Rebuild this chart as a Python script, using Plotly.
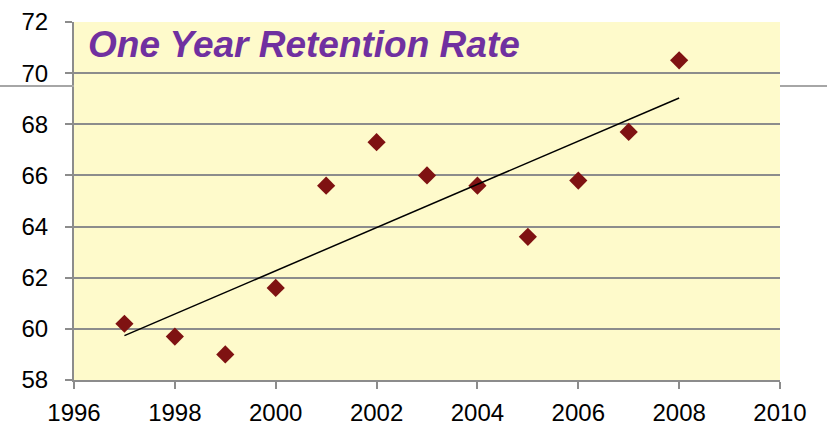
import numpy as np
import plotly.graph_objects as go

years = [1997, 1998, 1999, 2000, 2001, 2002, 2003, 2004, 2005, 2006, 2007, 2008]
retention = [60.2, 59.7, 59.0, 61.6, 65.6, 67.3, 66.0, 65.6, 63.6, 65.8, 67.7, 70.5]
title_text = "One Year Retention Rate"
x_ticks = [1996, 1998, 2000, 2002, 2004, 2006, 2008, 2010]
y_ticks = [58, 60, 62, 64, 66, 68, 70, 72]

slope, intercept = np.polyfit(years, retention, 1)
trend_x = [years[0], years[-1]]
trend_y = [slope * x + intercept for x in trend_x]

fig = go.Figure()
fig.add_trace(go.Scatter(x=years, y=retention, mode="markers",
                         marker=dict(symbol="diamond", size=14, color="#7F1212",
                                     line=dict(width=0)),
                         showlegend=False, cliponaxis=False))
fig.add_trace(go.Scatter(x=trend_x, y=trend_y, mode="lines",
                         line=dict(color="black", width=1.5), showlegend=False))

deco_y = (69.5 - 58) / 14
for x0, x1 in [(-0.2, 0), (1, 1.2)]:
    fig.add_shape(type="line", xref="paper", yref="paper", x0=x0, x1=x1,
                  y0=deco_y, y1=deco_y, line=dict(color="#A6A6A6", width=2))

fig.add_annotation(text="<b><i>" + title_text + "</i></b>", xref="paper", yref="paper",
                   x=0.017, y=1.0, xanchor="left", yanchor="top", showarrow=False,
                   font=dict(family="Liberation Sans, Arial", size=37, color="#7030A0"))

fig.update_layout(
    width=827, height=435,
    margin=dict(l=74, r=47, t=22, b=55),
    paper_bgcolor="white", plot_bgcolor="#FEFACB",
    font=dict(family="Liberation Sans, Arial", size=24, color="black"),
    xaxis=dict(range=[1996, 2010], tickvals=x_ticks, showgrid=False, zeroline=False,
               showline=True, linecolor="#8C8C8C", linewidth=2, automargin=False,
               ticks="outside", ticklen=7, tickcolor="#8C8C8C", tickwidth=2,
               ticklabelstandoff=3),
    yaxis=dict(range=[58, 72], tickvals=y_ticks, showgrid=True, gridcolor="#8C8C8C",
               gridwidth=1.5, zeroline=False, showline=True, linecolor="#8C8C8C",
               linewidth=2, automargin=False, ticks="outside", ticklen=7,
               tickcolor="#8C8C8C", tickwidth=2, ticklabelstandoff=12),
)

fig.write_html("out.html", config={"displayModeBar": False},
               post_script="document.body.style.margin='0';")
